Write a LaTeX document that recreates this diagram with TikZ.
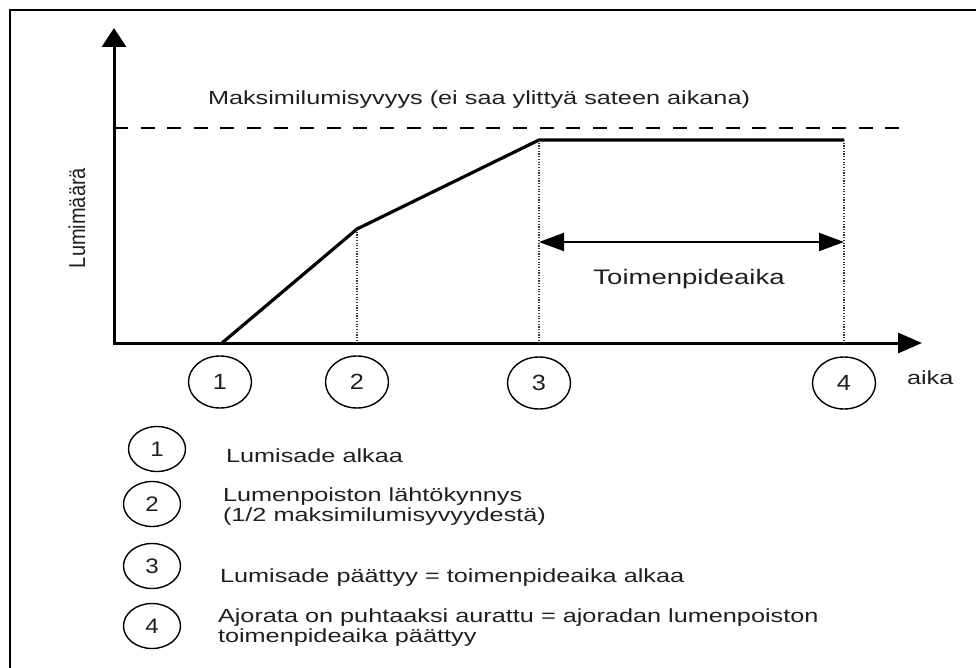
\documentclass[tikz,border=0pt]{standalone}
\usepackage{fontspec}
\setmainfont{Liberation Sans}
\usetikzlibrary{arrows.meta,shapes.geometric}
\newcommand\hsq[2]{\scalebox{#1}[1]{#2}}
\begin{document}
\begin{tikzpicture}[x=1pt,y=-1pt,
  txt/.style={inner sep=0pt, outer sep=0pt, text=black!88},
  num/.style={draw, ellipse, line width=1.4pt, minimum width=63pt, minimum height=52pt, inner sep=0pt, text=black!88, font=\fontsize{22}{24}\selectfont},
  lnum/.style={num, minimum width=57pt, minimum height=45pt, font=\fontsize{21}{23}\selectfont},
  ax/.style={line width=3pt},
  guide/.style={line width=1.5pt, dash pattern=on 1.2pt off 1.5pt, black!80},
  legfont/.style={font=\fontsize{19}{20}\selectfont},
  ]
\useasboundingbox (0,0) rectangle (976,668);
% frame (only top and left edges visible)
\coordinate (fb) at (9.5,668);
\coordinate (fc) at (9.5,10.5);
\coordinate (fr) at (976,10.5);
\draw[line width=2pt] (fb) -- (fc) -- (fr);

% axes
\coordinate (O) at (114,343);
\coordinate (Ox) at (112.5,343);
\coordinate (Oy) at (114,344.5);
\coordinate (ytip) at (114,28);
\coordinate (xtip) at (922,343);
\draw[ax, -{Triangle[length=19pt,width=24pt]}] (Oy) -- (ytip);
\draw[ax, -{Triangle[length=24pt,width=20pt]}] (Ox) -- (xtip);

% maximum depth (dashed)
\coordinate (dl) at (114,128);
\coordinate (dr) at (902,128);
\draw[line width=2.6pt, dash pattern=on 14pt off 12.6pt] (dl) -- (dr);
\node[txt, anchor=base west, font=\fontsize{19}{20}\selectfont] (title) at (208,105)
  {\hsq{1.33}{Maksimilumisyvyys (ei saa ylittyä sateen aikana)}};

% snow amount curve
\coordinate (p1) at (222,343);
\coordinate (p2) at (357,229);
\coordinate (p3) at (539,140);
\coordinate (p4) at (844,140);
\draw[line width=3.2pt, line join=round] (p1) -- (p2) -- (p3) -- (p4);

% guide lines
\draw[guide] (p2) -- (p2 |- O);
\draw[guide] (p3) -- (p3 |- O);
\draw[guide] (p4) -- (p4 |- O);

% measure arrow
\coordinate (ta) at (539,242);
\coordinate (tb) at (844,242);
\draw[line width=2pt, {Triangle[length=25pt,width=18pt]}-{Triangle[length=25pt,width=18pt]}] (ta) -- (tb);
\node[txt, anchor=base, font=\fontsize{21}{22}\selectfont] (toim) at (689,284) {\hsq{1.31}{Toimenpideaika}};

% axis labels
\node[txt, anchor=base, rotate=90, font=\fontsize{20}{22}\selectfont] (ylab) at (85,218) {\scalebox{1}[1.15]{Lumimäärä}};
\node[txt, anchor=base west, font=\fontsize{19}{20}\selectfont] (xlab) at (907,384) {\hsq{1.33}{aika}};

% numbered markers on time axis
\node[num] (c1) at (220,382) {\hsq{1.15}{1}};
\node[num] (c2) at (357,382) {\hsq{1.15}{2}};
\node[num] (c3) at (539,383) {\hsq{1.15}{3}};
\node[num] (c4) at (844,383) {\hsq{1.15}{4}};

% legend
\node[lnum] (l1) at (157,449) {\hsq{1.15}{1}};
\node[lnum] (l2) at (152,504) {\hsq{1.15}{2}};
\node[lnum] (l3) at (152,566) {\hsq{1.15}{3}};
\node[lnum] (l4) at (152,626) {\hsq{1.15}{4}};

\node[txt, legfont, anchor=base west] (t1) at (226,462) {\hsq{1.33}{Lumisade alkaa}};
\node[txt, legfont, anchor=base west] (t2) at (223,501)
  {\hsq{1.33}{\begin{tabular}[t]{@{}l@{}}Lumenpoiston lähtökynnys\\(1/2 maksimilumisyvyydestä)\end{tabular}}};
\node[txt, legfont, anchor=base west] (t3) at (220,582) {\hsq{1.33}{Lumisade päättyy = toimenpideaika alkaa}};
\node[txt, legfont, anchor=base west] (t4) at (218,622)
  {\hsq{1.33}{\begin{tabular}[t]{@{}l@{}}Ajorata on puhtaaksi aurattu = ajoradan lumenpoiston\\toimenpideaika päättyy\end{tabular}}};
\end{tikzpicture}
\end{document}
